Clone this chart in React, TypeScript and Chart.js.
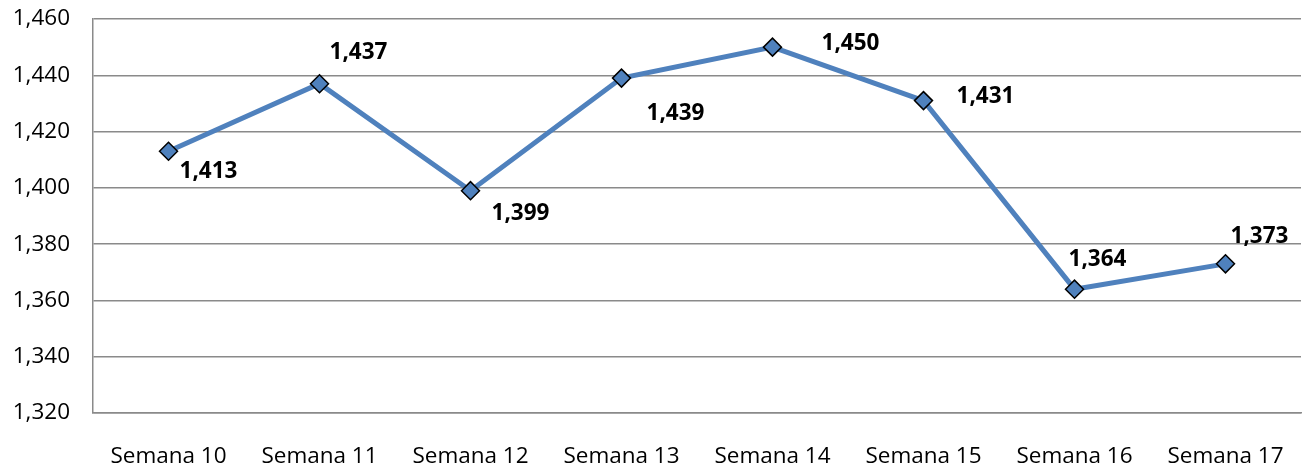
import React, { useEffect, useRef } from "react";
import { Chart, registerables } from "chart.js";

Chart.register(...registerables);

const categories = ["Semana 10", "Semana 11", "Semana 12", "Semana 13", "Semana 14", "Semana 15", "Semana 16", "Semana 17"];
const values = [1413, 1437, 1399, 1439, 1450, 1431, 1364, 1373];
const yMin = 1320;
const yMax = 1460;
const yStep = 20;

// label placement (style): offset of label centre from its point, in px
const labelOffsets: [number, number][] = [
  [40, 20], [39, -31], [50, 23], [54, 35], [78, -4], [62, -4], [23, -30], [34, -27],
];

const fmt = (v: number) => v.toLocaleString("en-US");

const labelPlugin = {
  id: "pointLabels",
  afterDatasetsDraw(chart: any) {
    const ctx = chart.ctx;
    const meta = chart.getDatasetMeta(0);
    ctx.save();
    ctx.font = "bold 22.5px 'Open Sans'";
    ctx.fillStyle = "#000";
    ctx.textAlign = "center";
    ctx.textBaseline = "middle";
    meta.data.forEach((pt: any, i: number) => {
      const [dx, dy] = labelOffsets[i];
      ctx.fillText(fmt(values[i]), pt.x + dx, pt.y + dy);
    });
    ctx.restore();
  },
};

export default function App() {
  const ref = useRef<HTMLCanvasElement>(null);
  useEffect(() => {
    document.body.style.margin = "0";
    const chart = new Chart(ref.current!, {
      type: "line",
      data: {
        labels: categories,
        datasets: [
          {
            data: values,
            borderColor: "#4F81BD",
            borderWidth: 5,
            pointStyle: "rectRot",
            pointRadius: 9,
            pointHoverRadius: 9,
            pointBackgroundColor: "#4F81BD",
            pointBorderColor: "#000",
            pointBorderWidth: 1.5,
            tension: 0,
            clip: false,
          },
        ],
      },
      options: {
        animation: false,
        responsive: false,
        layout: { autoPadding: false, padding: { top: 19, right: 1, left: 0, bottom: 0 } },
        plugins: { legend: { display: false }, tooltip: { enabled: false } },
        scales: {
          x: {
            offset: true,
            grid: { display: false, drawTicks: false },
            border: { color: "#8a8a8a", width: 1.5 },
            ticks: { color: "#000", font: { family: "'Open Sans'", size: 22.5 }, padding: 30 },
            afterFit: (s: any) => { s.height = 53; s.paddingLeft = 0; s.paddingRight = 0; },
          },
          y: {
            min: yMin,
            max: yMax,
            grid: { color: "#8a8a8a", lineWidth: 1.5, drawTicks: false },
            border: { color: "#8a8a8a", width: 1.5 },
            ticks: {
              stepSize: yStep,
              color: "#000",
              font: { family: "'Open Sans'", size: 22.5 },
              padding: 23,
              callback: (v: any) => fmt(Number(v)),
            },
            afterFit: (s: any) => { s.width = 93; s.paddingTop = 0; s.paddingBottom = 0; },
          },
        },
      },
      plugins: [labelPlugin],
    });
    return () => chart.destroy();
  }, []);
  return <canvas ref={ref} width={1302} height={466} style={{ display: "block" }} />;
}
